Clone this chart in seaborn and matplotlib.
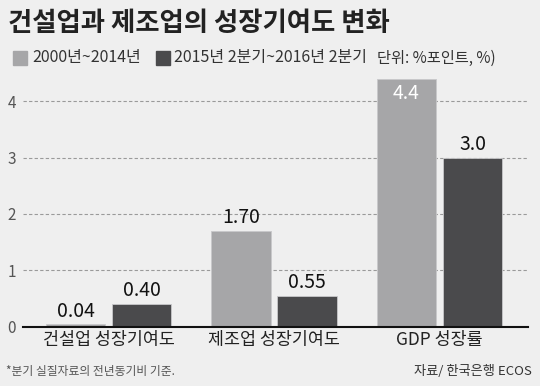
import pandas as pd
import seaborn as sns
import matplotlib.pyplot as plt

categories = ["건설업 성장기여도", "제조업 성장기여도", "GDP 성장률"]
series_names = ["2000년~2014년", "2015년 2분기~2016년 2분기"]
values_2000_2014 = [0.04, 1.70, 4.4]
values_2015_2016 = [0.40, 0.55, 3.0]
labels_2000_2014 = ["0.04", "1.70", "4.4"]
labels_2015_2016 = ["0.40", "0.55", "3.0"]
yticks = [0, 1, 2, 3, 4]

BG = "#efefef"
LIGHT = "#a6a6a8"
DARK = "#4a4a4c"

df = pd.DataFrame({
    "cat": categories * 2,
    "series": [series_names[0]] * 3 + [series_names[1]] * 3,
    "value": values_2000_2014 + values_2015_2016,
})

sns.set_theme(style="white")
plt.rcParams["font.family"] = ["Noto Sans CJK KR", "DejaVu Sans"]

fig = plt.figure(figsize=(5.4, 3.86), dpi=100, facecolor=BG)
ax = fig.add_axes([0.0426, 0.1536, 0.935, 0.672])
ax.set_facecolor(BG)

sns.barplot(
    data=df, x="cat", y="value", hue="series", order=categories,
    hue_order=series_names, palette=[LIGHT, DARK], width=0.8, gap=0.1,
    saturation=1, edgecolor="#c8c8ca", linewidth=0.6, legend=False, ax=ax,
    zorder=2,
)

ax.set_ylim(0, 4.6)
ax.set_xlim(-0.517, 2.535)
ax.set_yticks(yticks)
ax.set_yticklabels([str(t) for t in yticks], color="#555555", fontsize=11)
ax.tick_params(axis="y", length=0, pad=5)
ax.tick_params(axis="x", length=0, pad=3, labelsize=12.5, labelcolor="#222222")
ax.set_xlabel("")
ax.set_ylabel("")
for t in yticks[1:]:
    ax.axhline(t, color="#9a9a9a", lw=0.8, ls=(0, (3, 2)), zorder=0)
for s in ["top", "right", "left"]:
    ax.spines[s].set_visible(False)
ax.spines["bottom"].set_color("#111111")
ax.spines["bottom"].set_linewidth(1.5)
ax.spines["bottom"].set_zorder(3)

# value labels
offsets = [-0.2, 0.2]
for k, (vals, labs) in enumerate([(values_2000_2014, labels_2000_2014),
                                  (values_2015_2016, labels_2015_2016)]):
    for i, (v, lab) in enumerate(zip(vals, labs)):
        if v > 4.2:
            ax.text(i + offsets[k], v - 0.08, lab, ha="center", va="top",
                    fontsize=14, color="white", zorder=4)
        else:
            ax.text(i + offsets[k], v + 0.05, lab, ha="center", va="bottom",
                    fontsize=14, color="#111111", zorder=4)

# title
fig.text(0.015, 0.94, "건설업과 제조업의 성장기여도 변화", fontsize=19,
         fontweight="bold", color="#222222", va="center", ha="left")

# legend row
ly = 0.85
fig.patches.append(plt.Rectangle((13 / 540, ly - 0.019), 14 / 540, 0.038,
                                 transform=fig.transFigure, color=LIGHT))
fig.text(32 / 540, ly, series_names[0], fontsize=11.5, color="#333333",
         va="center", ha="left")
fig.patches.append(plt.Rectangle((156 / 540, ly - 0.019), 14 / 540, 0.038,
                                 transform=fig.transFigure, color=DARK))
fig.text(174 / 540, ly, series_names[1], fontsize=11.5, color="#333333",
         va="center", ha="left")
fig.text(377 / 540, ly, "단위: %포인트, %)", fontsize=11, color="#333333",
         va="center", ha="left")

# footer
fig.text(0.012, 0.038, "*분기 실질자료의 전년동기비 기준.", fontsize=8.5,
         color="#555555", va="center", ha="left")
fig.text(0.985, 0.038, "자료/ 한국은행 ECOS", fontsize=9.5, style="italic",
         color="#333333", va="center", ha="right")

fig.savefig("out.png", dpi=100, facecolor=BG)
